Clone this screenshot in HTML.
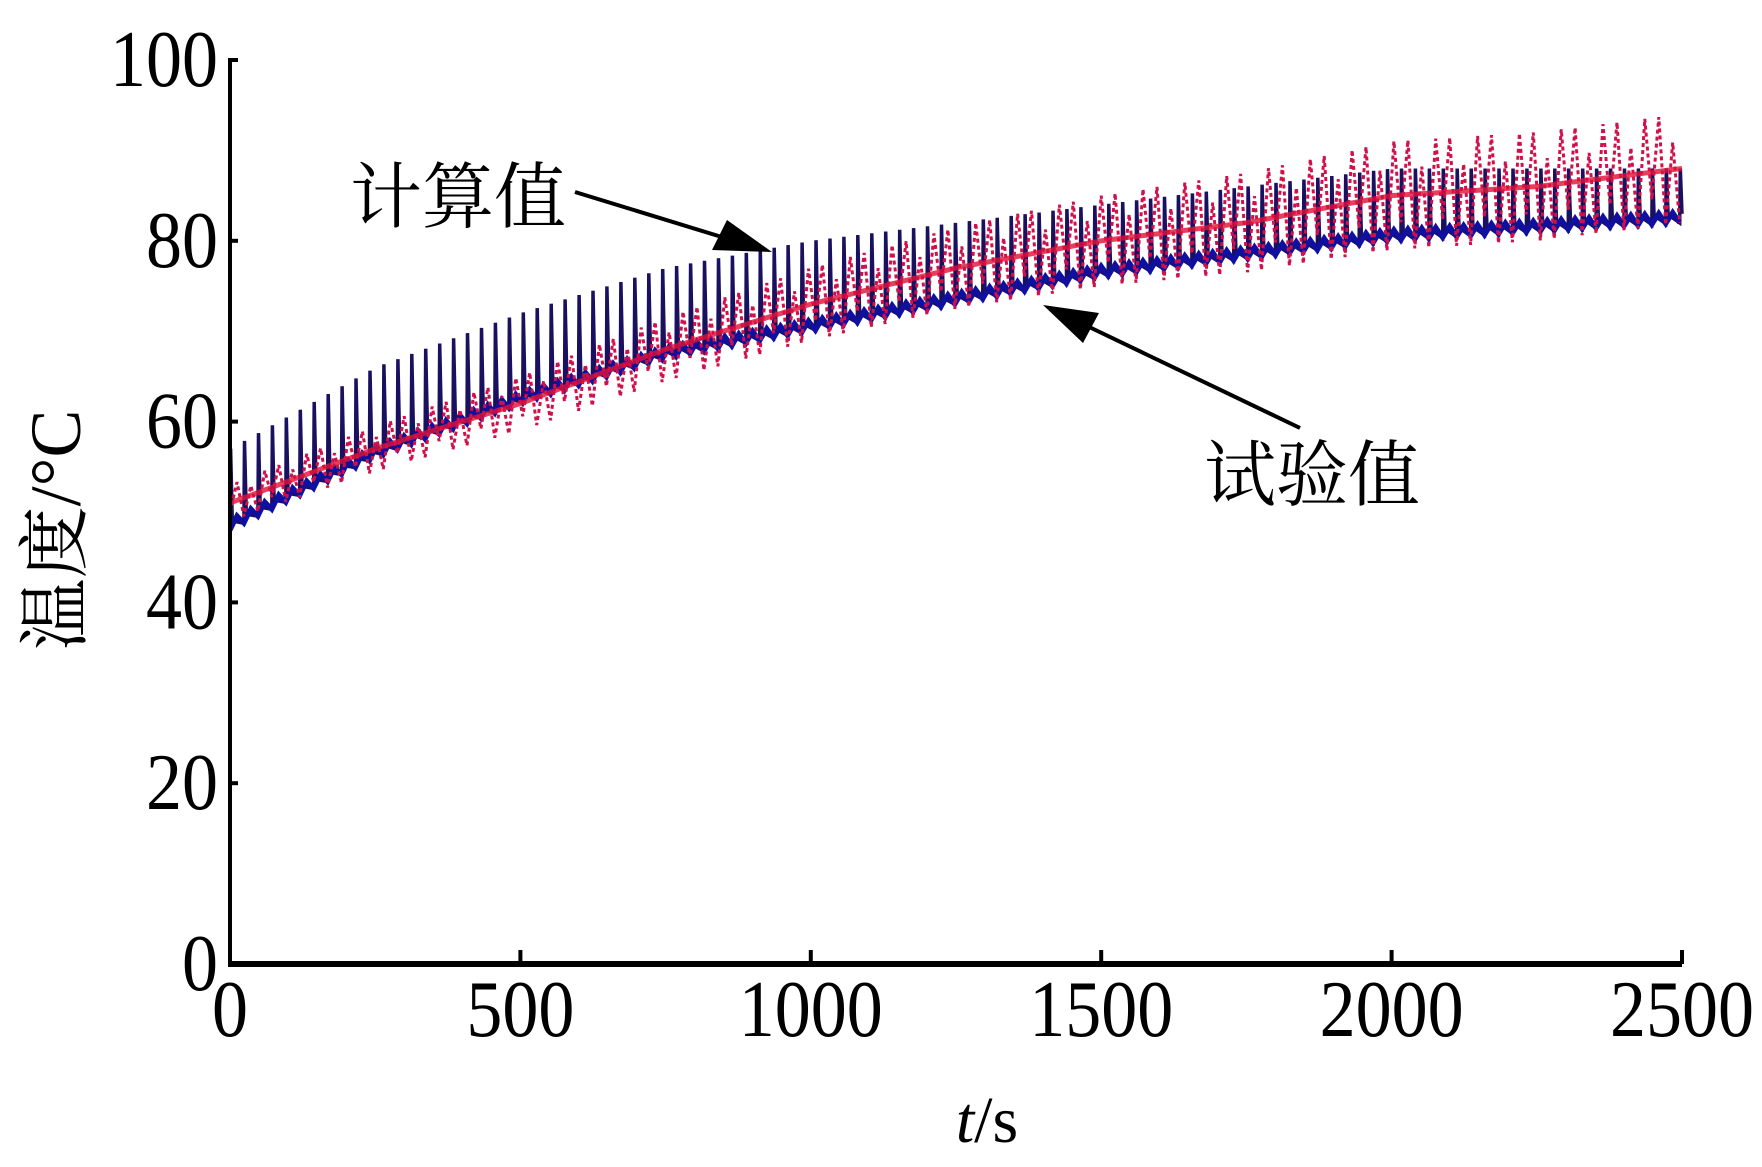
<!DOCTYPE html>
<html><head><meta charset="utf-8"><style>
html,body{margin:0;padding:0;background:#fff;}
svg{display:block;}
text{font-family:"Liberation Serif","Noto Serif CJK SC",serif;fill:#000;}
.cjk{font-family:"Liberation Serif","Noto Serif CJK SC","Noto Sans CJK SC",serif;}
</style></head><body>
<svg id="chart" width="1762" height="1167" viewBox="0 0 1762 1167">
<g id="marks"></g>
<g id="axes"></g>
<g>
<text class="cjk" x="350" y="222" font-size="72">计算值</text>
<line x1="575" y1="192" x2="725" y2="238" stroke="#000" stroke-width="4"/>
<polygon points="772,252 712,250 727,220" fill="#000"/>
<text class="cjk" x="1204" y="500" font-size="72">试验值</text>
<line x1="1300" y1="428" x2="1085" y2="325" stroke="#000" stroke-width="4"/>
<polygon points="1043,305 1099,313 1083,343" fill="#000"/>
</g>
<text x="0" y="0" font-size="72" class="cjk" transform="translate(80,530) rotate(-90)" text-anchor="middle">温度/°C</text>
<text x="987" y="1142" font-size="66" text-anchor="middle"><tspan font-style="italic">t</tspan>/s</text>
</svg>
<script>
const xTicks=[0,500,1000,1500,2000,2500];
const yTicks=[0,20,40,60,80,100];
const times=[0,250,500,750,1000,1250,1500,1750,2000,2250,2500];
const calcLow=[48,56,62,67,70,73,76,78,80,81,82];
const calcHigh=[57,66,72,77,80,82,84,86,88,88,88];
const expMean=[51,57,62,68,73,77,80,82,85,86,88];
const expSpread=[2,2.5,3,3.5,4,4.5,5,5.5,6,6,6];
const period=24;

const X0=230,X1=1682,Y0=964,Y1=60;
const sx=v=>X0+(v-0)/(2500-0)*(X1-X0);
const sy=v=>Y0-(v-0)/(100-0)*(Y0-Y1);
const NS="http://www.w3.org/2000/svg";
function interp(arr,t){
  for(let i=0;i<times.length-1;i++){
    if(t<=times[i+1]){const f=(t-times[i])/(times[i+1]-times[i]);return arr[i]+f*(arr[i+1]-arr[i]);}
  }
  return arr[arr.length-1];
}
const marks=document.getElementById('marks');
const axes=document.getElementById('axes');

let d='';
for(let t=0;t<=2500;t+=period){
  const lo=interp(calcLow,t),hi=interp(calcHigh,t);
  d+=(t===0?'M':'L')+sx(t).toFixed(1)+','+sy(lo).toFixed(1)+'L'+sx(t+1).toFixed(1)+','+sy(hi).toFixed(1)+'L'+sx(t+4).toFixed(1)+','+sy(lo+1).toFixed(1);
}
const calc=document.createElementNS(NS,'path');


calc.setAttribute('d',d);calc.setAttribute('fill','none');
calc.setAttribute('stroke','#1a1060');calc.setAttribute('stroke-width','3.5');
marks.appendChild(calc);
let d2='';
for(let t=0;t<=2500;t+=period/2){
  const lo=interp(calcLow,t)+((t/(period/2))%2?1.2:0);
  d2+=(t===0?'M':'L')+sx(t).toFixed(1)+','+sy(lo).toFixed(1);
}
const calcB=document.createElementNS(NS,'path');


calcB.setAttribute('d',d2);calcB.setAttribute('fill','none');
calcB.setAttribute('stroke','#1010a0');calcB.setAttribute('stroke-width','5');
marks.appendChild(calcB);

let d3='';let k=0;
for(let t=0;t<=2500;t+=period/2){
  const m=interp(expMean,t),s=interp(expSpread,t);
  const v=m+(k%2?s:-s)*(k%3===0?0.5:1);k++;
  d3+=(t===0?'M':'L')+sx(t).toFixed(1)+','+sy(v).toFixed(1);
}
const exp=document.createElementNS(NS,'path');


exp.setAttribute('d',d3);exp.setAttribute('fill','none');
exp.setAttribute('stroke','#d0104a');exp.setAttribute('stroke-width','3');exp.setAttribute('stroke-dasharray','4 3');
marks.appendChild(exp);
let d4='';
for(let t=0;t<=2500;t+=10){d4+=(t===0?'M':'L')+sx(t).toFixed(1)+','+sy(interp(expMean,t)).toFixed(1);}
const expM=document.createElementNS(NS,'path');


expM.setAttribute('d',d4);expM.setAttribute('fill','none');
expM.setAttribute('stroke','#e0103a');expM.setAttribute('stroke-width','5');expM.setAttribute('opacity','0.8');
marks.appendChild(expM);

function line(x1,y1,x2,y2,w,name){
  const l=document.createElementNS(NS,'line');
  
  
  l.setAttribute('x1',x1);l.setAttribute('y1',y1);l.setAttribute('x2',x2);l.setAttribute('y2',y2);
  l.setAttribute('stroke','#000');l.setAttribute('stroke-width',w);
  axes.appendChild(l);
}
line(X0,Y1-2,X0,Y0+3,4,'y-axis-line');
line(X0,Y0,X1,Y0,6,'x-axis-line');
function txt(x,y,s,anchor,name){
  const t=document.createElementNS(NS,'text');
  
  
  t.setAttribute('x',0);t.setAttribute('y',0);
  t.setAttribute('font-size','80');t.setAttribute('text-anchor',anchor);
  t.setAttribute('transform','translate('+x+','+y+') scale(0.9,1)');
  t.textContent=s;axes.appendChild(t);
}
yTicks.forEach(v=>{
  line(X0,sy(v),X0+8,sy(v),4,'y-tick');
  txt(X0-12,sy(v)+26,String(v),'end','y-tick-label');
});
xTicks.forEach(v=>{
  line(sx(v),Y0,sx(v),Y0-14,4,'x-tick');
  txt(sx(v),Y0+72,String(v),'middle','x-tick-label');
});
</script>
</body></html>
